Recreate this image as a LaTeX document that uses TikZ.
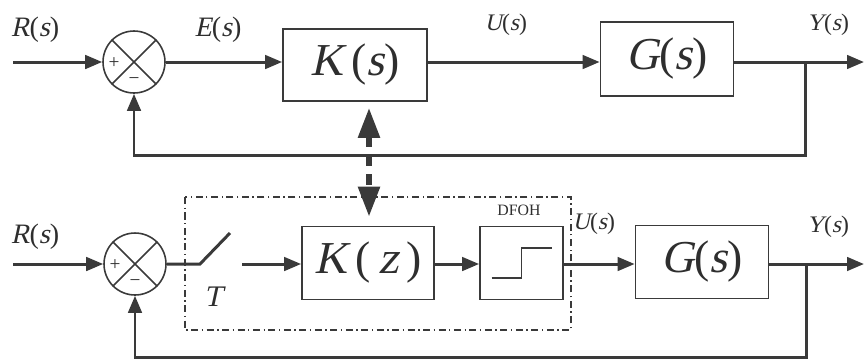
\documentclass[tikz,border=0pt]{standalone}
\usepackage{fontspec}
\setmainfont{Liberation Serif}
\newfontfamily\slantserif{Liberation Serif}[FakeSlant=0.22]
\newcommand{\sv}[1]{{\slantserif #1}}
\usetikzlibrary{arrows.meta,positioning}
\definecolor{wireGrey}{HTML}{3A3A3A}
\definecolor{inkGrey}{HTML}{2E2E2E}

\begin{document}
\begin{tikzpicture}[x=0.02cm,y=-0.02cm,
    every node/.style={text=inkGrey},
    wire/.style={draw=wireGrey,line width=1.7pt},
    sig/.style={wire,-{Triangle[length=0.34cm,width=0.27cm]}},
    block/.style={draw=wireGrey,line width=1pt,inner sep=0pt,font=\fontsize{26}{28}\selectfont},
    sumnode/.style={draw=wireGrey,line width=0.9pt,circle,minimum size=1.24cm,inner sep=0pt},
    sign/.style={font=\fontsize{11}{11}\selectfont,inner sep=0pt},
    biglbl/.style={font=\fontsize{16}{18}\selectfont},
    smalllbl/.style={font=\fontsize{13.5}{16}\selectfont},
    link/.style={wireGrey,line width=3.2pt,dash pattern=on 0.22cm off 0.16cm,
      {Triangle[length=0.6cm,width=0.42cm]}-{Triangle[length=0.6cm,width=0.42cm]}}]
  \useasboundingbox (0,0) rectangle (865,360);

  % continuous loop
  \node[sumnode] (sumA) at (134,62) {};
  \node[block,minimum width=2.88cm,minimum height=1.44cm] (ks) at (355,65) {\sv{K}\,(\sv{s})};
  \node[block,minimum width=2.66cm,minimum height=1.48cm] (gsA) at (667,59) {\sv{G}(\sv{s})};
  \coordinate (inA) at (13,62);
  \coordinate (outA) at (864,62);
  \coordinate (brA) at (805,62);
  \coordinate (fbA) at (805,155);
  \draw[sig] (inA) -- (sumA);
  \draw[sig] (sumA) -- (sumA -| ks.west);
  \draw[sig] (ks.east |- sumA) -- (gsA.west |- sumA);
  \draw[sig] (gsA.east |- sumA) -- (outA);
  \draw[sig] (brA) -- (fbA) -| (sumA.south);

  % sampled loop
  \node[sumnode] (sumB) at (135,264) {};
  \node[block,minimum width=2.64cm,minimum height=1.46cm] (kz) at (368,263) {\sv{K}\,(\,\sv{z}\,)};
  \node[block,minimum width=1.66cm,minimum height=1.46cm] (dfoh) at (521.5,263) {};
  \node[block,minimum width=2.66cm,minimum height=1.46cm] (gsB) at (702,262) {\sv{G}(\sv{s})};
  \coordinate (inB) at (13,264);
  \coordinate (swA) at (200,264);
  \coordinate (swB) at (230,233);
  \coordinate (swC) at (242,264);
  \coordinate (outB) at (864,264);
  \coordinate (brB) at (806,264);
  \coordinate (fbB) at (806,357);
  \draw[sig] (inB) -- (sumB);
  \draw[wire] (sumB) -- (swA) -- (swB);
  \draw[sig] (swC) -- (swC -| kz.west);
  \draw[sig] (kz.east |- swC) -- (dfoh.west |- swC);
  \draw[sig] (dfoh.east |- swC) -- (gsB.west |- swC);
  \draw[sig] (gsB.east |- swC) -- (outB);
  \draw[sig] (brB) -- (fbB) -| (sumB.south);
  \draw[wireGrey,line width=1pt] ([shift={(-30,15)}]dfoh.center) -- ++(30,0) -- ++(0,-30) -- ++(30,0);
  \draw[wireGrey,line width=0.6pt,dash pattern=on 4pt off 2pt on 0.8pt off 2pt] (185,197) rectangle (571,330);

  % summing junctions
  \foreach \s in {sumA,sumB}{%
    \draw[wireGrey,line width=0.9pt] (\s.north west) -- (\s.south east) (\s.north east) -- (\s.south west);
    \node[sign] (\s-plus) at ([shift={(-20,1)}]\s.center) {+};
    \node[sign] (\s-minus) at ([shift={(0,19)}]\s.center) {−};
  }

  % link between the two controllers
  \coordinate (lkA) at (ks.south -| 369,0);
  \draw[link,shorten <=0.12cm,shorten >=0.18cm] (lkA) -- (kz.north -| lkA);

  % signal names
  \foreach \n/\p/\t/\st in {rA/{(35,30)}/R/biglbl, eA/{(218,30)}/E/biglbl,
      uA/{(506,25)}/U/smalllbl, yA/{(828,25)}/Y/smalllbl,
      rB/{(35,237)}/R/biglbl, uB/{(594,224)}/U/smalllbl, yB/{(828,227)}/Y/smalllbl}{%
    \node[\st] (lbl-\n) at \p {\sv{\t}(\sv{s})};
  }
  \node[font=\fontsize{17}{19}\selectfont] (lbl-T) at (213,297) {\sv{T}};
  \node[font=\fontsize{9}{10}\selectfont] (lbl-dfoh) at (519,210) {DFOH};
\end{tikzpicture}
\end{document}
